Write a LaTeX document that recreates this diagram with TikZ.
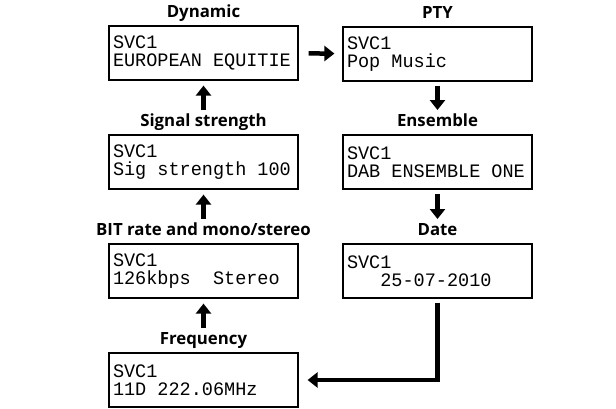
\documentclass[tikz,border=0pt]{standalone}
\usepackage{fontspec}
\setmainfont{Open Sans}
\newfontfamily\lcdfont[FakeStretch=0.975]{Liberation Mono}
\newcommand\lcdgap{\phantom{0}}
\usetikzlibrary{arrows.meta,positioning,calc}

\begin{document}
\begin{tikzpicture}[x=1pt, y=-1pt,
    screen/.style={draw, line width=1.2pt, minimum width=189pt, minimum height=54pt,
        text width=181pt, inner sep=4pt, align=left,
        font=\lcdfont\fontsize{19}{18.5}\selectfont},
    title/.style={font=\bfseries\fontsize{16.8}{18}\selectfont, inner sep=0pt,
        text height=12pt, text depth=4pt},
    flow arrow/.style={line width=4.5pt, -{Triangle[width=15pt,length=10pt]}}
]
\useasboundingbox (0,0) rectangle (616,408);
% left column, read bottom to top
\node[screen] (dyn) at (203.5,53) {SVC1\\EUROPEAN\lcdgap EQUITIE};
\node[screen] (sig) at (203.5,162) {SVC1\\Sig\lcdgap strength\lcdgap 100};
\node[screen] (bit) at (203.5,271) {SVC1\\126kbps\lcdgap\lcdgap Stereo};
\node[screen] (freq) at (203.5,380) {SVC1\\11D\lcdgap 222.06MHz};
% right column, read top to bottom
\node[screen] (pty) at (437.5,54) {SVC1\\Pop\lcdgap Music};
\node[screen] (ens) at (437.5,162) {SVC1\\DAB\lcdgap ENSEMBLE\lcdgap ONE};
\node[screen] (date) at (437.5,271) {SVC1\\\lcdgap\lcdgap\lcdgap 25-07-2010};
% titles over the screens
\node[title, above=4pt of dyn] (dynlbl) {Dynamic};
\node[title, above=4pt of sig] (siglbl) {Signal strength};
\node[title, above=4pt of bit] (bitlbl) {BIT rate and mono/stereo};
\node[title, above=4pt of freq] (freqlbl) {Frequency};
\node[title, above=4pt of pty] (ptylbl) {PTY};
\node[title, above=4pt of ens] (enslbl) {Ensemble};
\node[title, above=4pt of date] (datelbl) {Date};
% arrows
\draw[flow arrow, shorten <=10pt, shorten >=8pt] (dyn) -- (pty);
\draw[flow arrow, shorten <=4pt, shorten >=4pt] (pty) -- (enslbl);
\draw[flow arrow, shorten <=4pt, shorten >=4pt] (ens) -- (datelbl);
\draw[flow arrow, shorten <=4pt, shorten >=9pt] (date.south) |- (freq.east);
\draw[flow arrow, shorten <=4pt, shorten >=5pt] (freqlbl) -- (bit);
\draw[flow arrow, shorten <=4pt, shorten >=5pt] (bitlbl) -- (sig);
\draw[flow arrow, shorten <=4pt, shorten >=5pt] (siglbl) -- (dyn);
\end{tikzpicture}
\end{document}
